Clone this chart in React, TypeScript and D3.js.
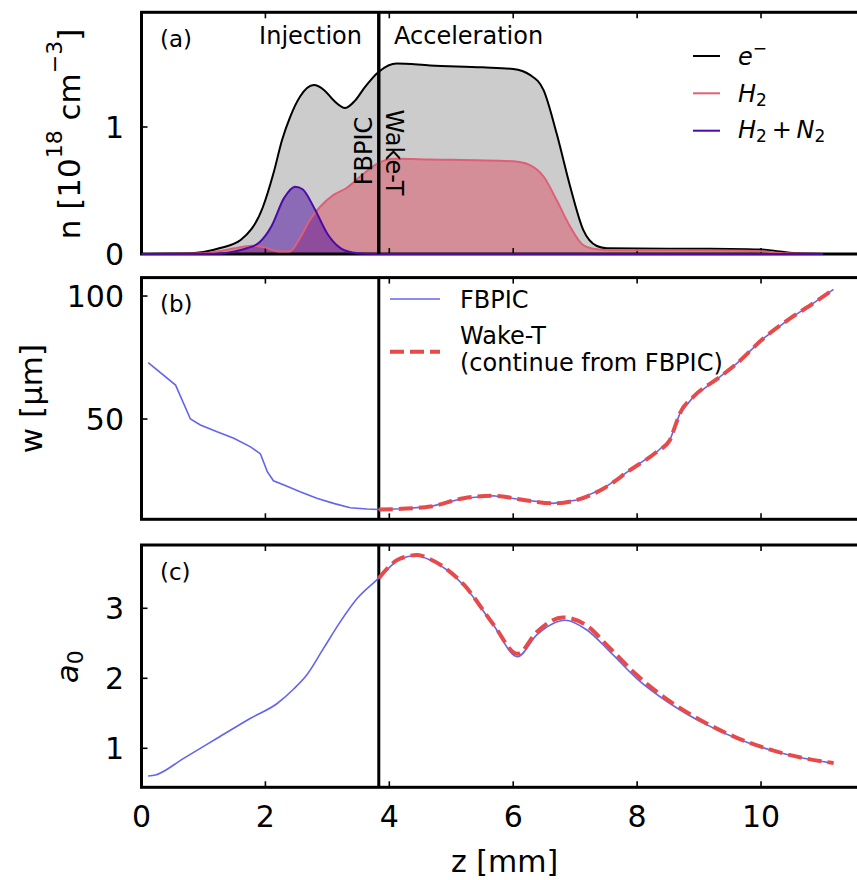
import React from 'react';
import * as d3 from 'd3';

// ---- values ----
const zTicks = [0, 2, 4, 6, 8, 10];
const zSplit = 3.83; // FBPIC -> Wake-T handover

// (a) density profiles, [z mm, n 1e18 cm^-3]
const electrons: [number, number][] = [
  [0.1, 0], [0.8, 0.005], [1.0, 0.015], [1.27, 0.047], [1.6, 0.11], [1.96, 0.37],
  [2.13, 0.635], [2.27, 0.9], [2.4, 1.08], [2.56, 1.24], [2.78, 1.33], [2.95, 1.29],
  [3.1, 1.21], [3.29, 1.15], [3.45, 1.21], [3.6, 1.31], [3.83, 1.435], [4.12, 1.5],
  [4.66, 1.485], [5.5, 1.47], [6.0, 1.457], [6.27, 1.41], [6.49, 1.29], [6.7, 0.95],
  [6.92, 0.53], [7.13, 0.19], [7.35, 0.063], [7.51, 0.045], [8.5, 0.042], [9.5, 0.04],
  [10.0, 0.035], [10.3, 0.02], [10.6, 0.005], [11.0, 0],
];
const hydrogen: [number, number][] = [
  [0.1, 0], [1.0, 0.005], [1.3, 0.025], [1.5, 0.045], [1.8, 0.065], [2.0, 0.05],
  [2.2, 0.02], [2.39, 0.02], [2.55, 0.12], [2.72, 0.27], [2.88, 0.37], [3.1, 0.465],
  [3.31, 0.52], [3.53, 0.61], [3.8, 0.71], [4.07, 0.75], [4.66, 0.745], [6.0, 0.73],
  [6.27, 0.7], [6.49, 0.61], [6.7, 0.425], [6.92, 0.215], [7.13, 0.07], [7.35, 0.037],
  [7.6, 0.03], [9.5, 0.028], [10.0, 0.022], [10.4, 0.005], [11.0, 0],
];
const dopedMix: [number, number][] = [
  [0, 0], [1.2, 0.002], [1.5, 0.02], [1.7, 0.045], [1.9, 0.09], [2.1, 0.22], [2.3, 0.44],
  [2.48, 0.53], [2.6, 0.51], [2.8, 0.35], [3.0, 0.16], [3.2, 0.05], [3.4, 0.012],
  [3.6, 0.002], [4.0, 0], [11.0, 0],
];

// (b) spot size w [um]
const wFbpic: [number, number][] = [
  [0.108, 72.9], [0.55, 63.8], [0.79, 50.0], [0.95, 47.6], [1.22, 44.8], [1.49, 42.2],
  [1.76, 38.7], [1.92, 35.8], [2.03, 28.6], [2.13, 24.9], [2.3, 23.2], [2.56, 20.4],
  [2.83, 17.8], [3.1, 15.7], [3.37, 13.9], [3.64, 13.4], [3.83, 13.2], [4.2, 13.5],
  [4.66, 14.4], [5.2, 17.8], [5.68, 18.8], [6.17, 17.1], [6.65, 15.7], [7.03, 17.1],
  [7.46, 21.8], [7.89, 29.3], [8.32, 36.7], [8.53, 41.5], [8.61, 46.9], [8.69, 52.3],
  [8.91, 59.1], [9.34, 67.2], [9.61, 72.6], [10.04, 82.8], [10.47, 90.9], [10.84, 97.0],
  [11.17, 102.7],
];
const wWake: [number, number][] = [
  [3.83, 13.2], [4.2, 13.5], [4.66, 14.4], [5.2, 17.8], [5.68, 18.8], [6.17, 17.1],
  [6.65, 15.7], [7.03, 17.1], [7.46, 21.8], [7.89, 29.3], [8.32, 36.7], [8.53, 41.5],
  [8.61, 46.9], [8.69, 52.3], [8.91, 59.1], [9.34, 67.2], [9.61, 72.6], [10.04, 82.8],
  [10.47, 90.9], [10.84, 97.0], [11.17, 102.7],
];

// (c) laser strength a0
const aFbpic: [number, number][] = [
  [0.108, 0.604], [0.226, 0.62], [0.68, 0.857], [1.22, 1.143], [1.76, 1.43], [2.19, 1.64],
  [2.46, 1.85], [2.67, 2.05], [2.94, 2.43], [3.21, 2.81], [3.48, 3.14], [3.83, 3.43],
  [4.15, 3.69], [4.42, 3.75], [4.66, 3.69], [5.2, 3.33], [5.68, 2.76], [6.07, 2.31],
  [6.38, 2.62], [6.84, 2.83], [7.19, 2.69], [7.56, 2.38], [7.99, 2.0], [8.53, 1.64],
  [9.07, 1.36], [9.61, 1.14], [10.15, 0.976], [10.69, 0.857], [11.17, 0.786],
];
const aWake: [number, number][] = [
  [3.83, 3.43], [4.15, 3.7], [4.45, 3.76], [4.66, 3.7], [5.2, 3.34], [5.68, 2.77],
  [6.07, 2.35], [6.38, 2.66], [6.8, 2.87], [7.19, 2.75], [7.56, 2.43], [7.99, 2.05],
  [8.53, 1.67], [9.07, 1.38], [9.61, 1.15], [10.15, 0.98], [10.69, 0.86], [11.17, 0.79],
];

const ticksA = [0, 1];
const ticksB = [50, 100];
const ticksC = [1, 2, 3];

// ---- layout ----
const W = 857;
const H = 880;
const FONT = '"DejaVu Sans", sans-serif';
const left = 141.5;
const right = 867.6;

const x = d3.scaleLinear().domain([0, 11.72]).range([left, right]);
const yA = d3.scaleLinear().domain([0, 1.903]).range([254, 12.3]);
const yB = d3.scaleLinear().domain([9.23, 107.5]).range([519.3, 277.6]);
const yC = d3.scaleLinear().domain([0.443, 3.904]).range([787.3, 545]);

const BLUE = '#6464ee';
const RED = '#e64a4a';
const PINK = '#df6075';
const PURPLE = '#4c0ba6';

const lineFor = (y: d3.ScaleLinear<number, number>, curve: d3.CurveFactory = d3.curveMonotoneX) =>
  d3.line<[number, number]>().x(d => x(d[0])).y(d => y(d[1])).curve(curve);

const areaA = d3.area<[number, number]>()
  .x(d => x(d[0]))
  .y0(yA(0))
  .y1(d => yA(d[1]))
  .curve(d3.curveMonotoneX);

function Frame({ y, ticks, tag }: { y: d3.ScaleLinear<number, number>; ticks: number[]; tag: string }) {
  const [bot, top] = y.range();
  return (
    <g>
      <rect x={left} y={top} width={right - left} height={bot - top} fill="none" stroke="#000" strokeWidth={3} />
      {zTicks.map(t => (
        <g key={t}>
          <line x1={x(t)} x2={x(t)} y1={bot} y2={bot - 6} stroke="#000" strokeWidth={1.6} />
          <line x1={x(t)} x2={x(t)} y1={top} y2={top + 6} stroke="#000" strokeWidth={1.6} />
        </g>
      ))}
      {ticks.map(t => (
        <g key={t}>
          <line x1={left} x2={left + 6} y1={y(t)} y2={y(t)} stroke="#000" strokeWidth={1.6} />
          <text x={124} y={y(t)} dy="0.36em" textAnchor="end" fontSize={30}>{t}</text>
        </g>
      ))}
      <line x1={x(zSplit)} x2={x(zSplit)} y1={top} y2={bot} stroke="#000" strokeWidth={3} />
      <text x={160} y={top + 34.5} fontSize={23}>{tag}</text>
    </g>
  );
}

export default function App() {
  const lineA = lineFor(yA);
  const lineBlueB = lineFor(yB, d3.curveLinear);
  const lineB = lineFor(yB);
  const lineC = lineFor(yC);

  return (
    <div style={{ position: 'absolute', left: 0, top: 0 }}>
      <svg width={W} height={H} style={{ display: 'block', fontFamily: FONT }}>
        <rect width={W} height={H} fill="#fff" />

        {/* (a) densities */}
        <path d={areaA(electrons)!} fill="#000" fillOpacity={0.2} />
        <path d={areaA(hydrogen)!} fill="rgb(224,49,74)" fillOpacity={0.4} />
        <path d={areaA(dopedMix)!} fill="rgb(75,10,160)" fillOpacity={0.5} />
        <Frame y={yA} ticks={ticksA} tag="(a)" />
        <path d={lineA(electrons)!} fill="none" stroke="#000" strokeWidth={2} />
        <path d={lineA(hydrogen)!} fill="none" stroke={PINK} strokeWidth={2} />
        <path d={lineA(dopedMix)!} fill="none" stroke={PURPLE} strokeWidth={2} />
        <line x1={x(zSplit)} x2={x(zSplit)} y1={yA.range()[1]} y2={yA.range()[0]} stroke="#000" strokeWidth={3} />
        <text x={362} y={44.3} textAnchor="end" fontSize={24}>Injection</text>
        <text x={394} y={44.3} fontSize={24}>Acceleration</text>
        <text transform={`translate(372,151) rotate(-90)`} textAnchor="middle" fontSize={24}>FBPIC</text>
        <text transform={`translate(385.5,152.4) rotate(90)`} textAnchor="middle" fontSize={24}>Wake-T</text>

        {/* legend (a) */}
        <line x1={693} x2={720} y1={56} y2={56} stroke="#000" strokeWidth={2} />
        <line x1={693} x2={720} y1={93.3} y2={93.3} stroke={PINK} strokeWidth={2} />
        <line x1={693} x2={720} y1={130.7} y2={130.7} stroke={PURPLE} strokeWidth={2} />
        <text x={738} y={65} fontSize={24}>
          <tspan fontStyle="italic">e</tspan>
          <tspan dy={-11} fontSize={17}>−</tspan>
        </text>
        <text x={738} y={101.7} fontSize={24}>
          <tspan fontStyle="italic">H</tspan>
          <tspan dy={4} fontSize={17}>2</tspan>
        </text>
        <text x={738} y={137.5} fontSize={24}>
          <tspan fontStyle="italic">H</tspan>
          <tspan dy={4} fontSize={17}>2</tspan>
          <tspan dy={-4}>{'\u2009+\u2009'}</tspan>
          <tspan fontStyle="italic">N</tspan>
          <tspan dy={4} fontSize={17}>2</tspan>
        </text>

        {/* (b) spot size */}
        <Frame y={yB} ticks={ticksB} tag="(b)" />
        <path d={lineBlueB(wFbpic)!} fill="none" stroke={BLUE} strokeWidth={1.6} />
        <path d={lineB(wWake)!} fill="none" stroke={RED} strokeWidth={4} strokeDasharray="14,6" />
        <line x1={390} x2={440} y1={299} y2={299} stroke={BLUE} strokeWidth={1.6} />
        <line x1={390} x2={440} y1={351.7} y2={351.7} stroke={RED} strokeWidth={4} strokeDasharray="14,6" />
        <text x={460} y={308} fontSize={24}>FBPIC</text>
        <text x={460} y={344} fontSize={24}>Wake-T</text>
        <text x={460} y={370.5} fontSize={24}>(continue from FBPIC)</text>

        {/* (c) a0 */}
        <Frame y={yC} ticks={ticksC} tag="(c)" />
        <path d={lineC(aFbpic)!} fill="none" stroke={BLUE} strokeWidth={1.6} />
        <path d={lineC(aWake)!} fill="none" stroke={RED} strokeWidth={4} strokeDasharray="14,6" />

        {/* x tick labels */}
        {zTicks.map(t => (
          <text key={t} x={x(t)} y={826.5} textAnchor="middle" fontSize={30}>{t}</text>
        ))}
        <text x={(left + right) / 2} y={872} textAnchor="middle" fontSize={30}>z [mm]</text>

        {/* y labels */}
        <text transform={`translate(80,134) rotate(-90)`} textAnchor="middle" fontSize={31}>
          n [10<tspan dy={-18} fontSize={22}>18</tspan>
          <tspan dy={18}> cm</tspan>
          <tspan dy={-18} fontSize={22}>−3</tspan>
          <tspan dy={18}>]</tspan>
        </text>
        <text transform={`translate(42,398.5) rotate(-90)`} textAnchor="middle" fontSize={31}>w [μm]</text>
        <text transform={`translate(78.3,666.7) rotate(-90)`} textAnchor="middle" fontSize={31}>
          <tspan fontStyle="italic">a</tspan>
          <tspan dy={5} fontSize={22}>0</tspan>
        </text>
      </svg>
    </div>
  );
}
